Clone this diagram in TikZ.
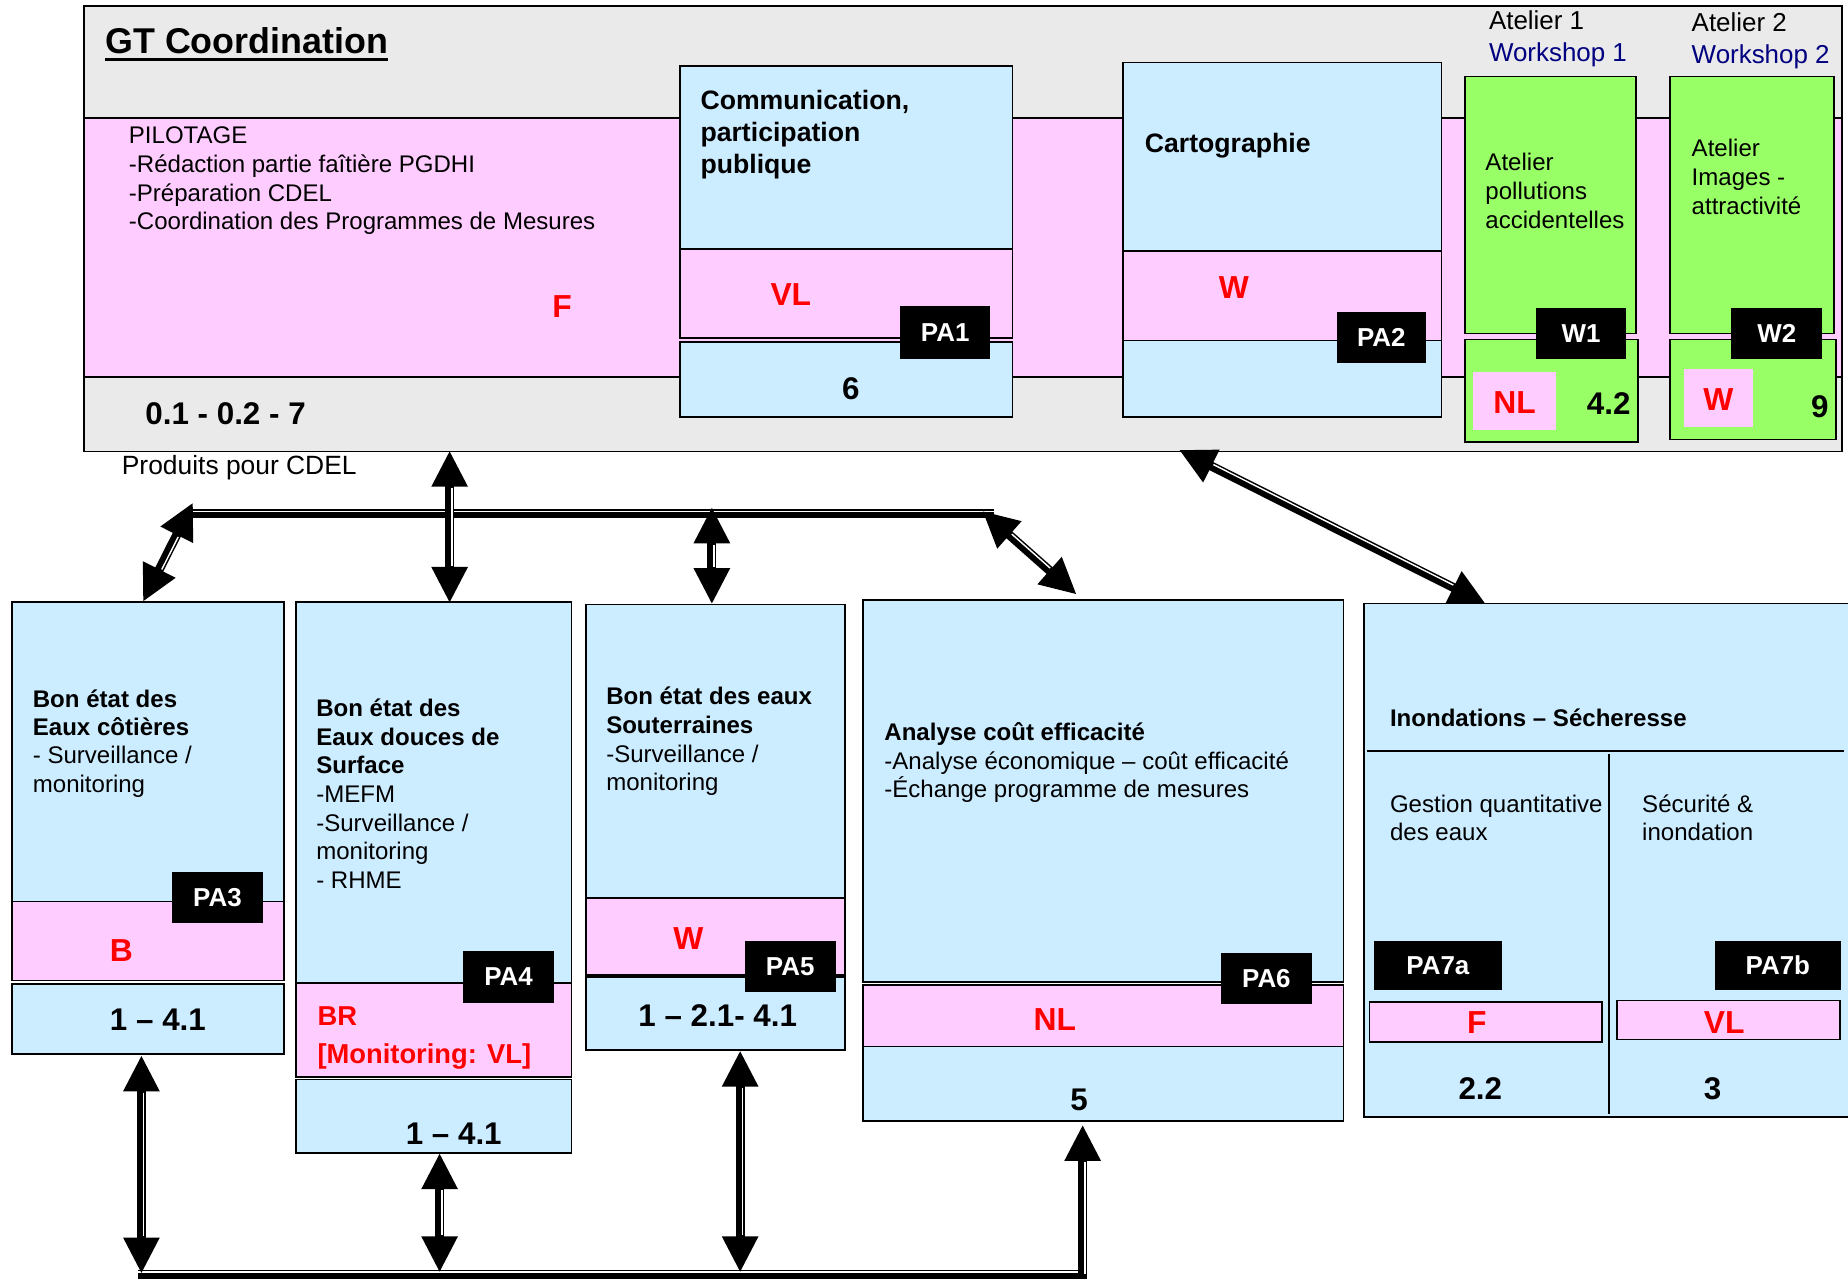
\documentclass[tikz,border=0pt]{standalone}
\usepackage{fontspec}
\setmainfont{Liberation Sans}
\usetikzlibrary{calc,fit}
\definecolor{cblue}{HTML}{CCECFF}
\definecolor{cpink}{HTML}{FFCCFF}
\definecolor{cgreen}{HTML}{99FF66}
\definecolor{cgray}{HTML}{EAEAEA}
\definecolor{cred}{HTML}{FF0000}
\definecolor{cnavy}{HTML}{000080}
\tikzset{
  bx/.style={draw=black, line width=0.75pt, inner sep=0pt, outer sep=0pt},
  txt/.style={inner sep=0pt, anchor=base west, align=left, font=\fontsize{10.2}{12.15}\selectfont},
  hdr/.style={inner sep=0pt, anchor=base west, align=left, font=\bfseries\fontsize{11.3}{13.5}\selectfont},
  redl/.style={inner sep=0pt, anchor=base, text=cred, font=\bfseries\fontsize{13.5}{16}\selectfont},
  num/.style={inner sep=0pt, anchor=base, font=\bfseries\fontsize{13.3}{16}\selectfont},
  tagt/.style={inner sep=0pt, text=white, font=\bfseries\fontsize{11}{13}\selectfont},
}
% box as a fitted node
\newcommand{\bxn}[6]{\node[bx, fill=#6, fit={(#2,#3) (#4,#5)}] (#1) {};}
\newcommand{\tagn}[6]{\node[fill=black, inner sep=0pt, fit={(#2,#3) (#4,#5)}] (#1) {};
  \node[tagt] (#1t) at (#1.center) {#6};}
% arrow head: tip #1, pointing away from #2
\newcommand{\ahead}[2]{%
  \coordinate (hbase) at ($(#1)!15pt!(#2)$);
  \fill (#1) -- ($(hbase)!7.8pt!90:(#1)$) -- ($(hbase)!7.8pt!-90:(#1)$) -- cycle;}
% double connector: thick + thin line
\newcommand{\conn}[4]{%
  \ifnum#3=1 \def\cnsa{12pt}\def\cnwa{15.5pt}\else\def\cnsa{0pt}\def\cnwa{0pt}\fi
  \ifnum#4=1 \def\cnsb{12pt}\def\cnwb{15.5pt}\else\def\cnsb{0pt}\def\cnwb{0pt}\fi
  \draw[line width=3.8pt, shorten <=\cnsa, shorten >=\cnsb] (#1) -- (#2);
  \draw[white, line width=0.6pt, shorten <=\cnwa, shorten >=\cnwb]
    ($(#1)!0.95pt!90:(#2)$) -- ($(#2)!0.95pt!-90:(#1)$);
  \ifnum#3=1 \ahead{#1}{#2}\fi
  \ifnum#4=1 \ahead{#2}{#1}\fi}
\begin{document}
\begin{tikzpicture}[x=0.5pt,y=-0.5pt]
\useasboundingbox (0,0) rectangle (1568,1085);
\clip (0,0) rectangle (1568,1085);
\fill[white] (0,0) rectangle (1568,1085);

% ---------- GT Coordination ----------
\bxn{gt}{71}{5}{1563}{383}{cgray}
\bxn{band}{71}{100}{1563}{320}{cpink}
\node[inner sep=0pt, anchor=base west, font=\bfseries\fontsize{15.2}{18}\selectfont] (title) at (89,45) {GT Coordination};
\draw[line width=1.4pt] ([yshift=-2.8pt]title.base west) -- ([yshift=-2.8pt]title.base east);
% multi-line nodes: base = baseline of last line
\node[txt] (pilot) at (109,195) {PILOTAGE\\-Rédaction partie faîtière PGDHI\\-Préparation CDEL\\-Coordination des Programmes de Mesures};
\node[redl] (gtF) at (477,269) {F};
\node[num, anchor=base west] (gtnum) at (123,360) {0.1 - 0.2 - 7};
\node[inner sep=0pt, anchor=base west, font=\fontsize{11.2}{13}\selectfont] (prod) at (103,403) {Produits pour CDEL};

% Communication
\bxn{com}{577}{56}{859}{287}{cblue}
\bxn{comp}{577}{211}{859}{287}{cpink}
\bxn{comn}{577}{290}{859}{354}{cblue}
\node[hdr] (comt) at (594,147) {Communication,\\participation\\publique};
\node[redl] (comvl) at (671,259) {VL};
\tagn{pa1}{764}{260}{840}{305}{PA1}
\node[num] (com6) at (722,339) {6};

% Cartographie
\bxn{car}{953}{53}{1223}{354}{cblue}
\bxn{carp}{953}{213}{1223}{289}{cpink}
\node[hdr] (cart) at (971,129) {Cartographie};
\node[redl] (carw) at (1047,253) {W};
\tagn{pa2}{1134}{265}{1210}{308}{PA2}

% Atelier 1
\node[inner sep=0pt, anchor=base west, font=\fontsize{11}{13}\selectfont] (at1a) at (1263,25) {Atelier 1};
\node[inner sep=0pt, anchor=base west, text=cnavy, font=\fontsize{11}{13}\selectfont] (at1b) at (1263,52) {Workshop 1};
\bxn{w1box}{1243}{65}{1388}{283}{cgreen}
\bxn{w1low}{1243}{288}{1390}{375}{cgreen}
\node[fill=cpink, inner sep=0pt, fit={(1250,316) (1320,365)}] (w1pk) {};
\node[txt, font=\fontsize{10.2}{12.25}\selectfont] (w1t) at (1260,194) {Atelier\\pollutions\\accidentelles};
\tagn{w1}{1303}{261}{1380}{305}{W1}
\node[redl] (w1nl) at (1285,351) {NL};
\node[num] (w1n) at (1365,352) {4.2};

% Atelier 2
\node[inner sep=0pt, anchor=base west, font=\fontsize{11}{13}\selectfont] (at2a) at (1435,27) {Atelier 2};
\node[inner sep=0pt, anchor=base west, text=cnavy, font=\fontsize{11}{13}\selectfont] (at2b) at (1435,54) {Workshop 2};
\bxn{w2box}{1417}{65}{1556}{283}{cgreen}
\bxn{w2low}{1417}{288}{1558}{373}{cgreen}
\node[fill=cpink, inner sep=0pt, fit={(1429,313) (1487,362)}] (w2pk) {};
\node[txt] (w2t) at (1435,181.6) {Atelier\\Images -\\attractivité};
\tagn{w2}{1469}{261}{1546}{305}{W2}
\node[redl] (w2w) at (1458,348) {W};
\node[num] (w2n) at (1544,354) {9};

% ---------- bottom row ----------
% PA3
\bxn{b3}{10}{511}{241}{832}{cblue}
\bxn{b3p}{10}{765}{241}{832}{cpink}
\bxn{b3n}{10}{835}{241}{894}{cblue}
\node[txt, font=\fontsize{10.2}{12}\selectfont] (b3t) at (27.5,672) {\textbf{Bon état des}\\\textbf{Eaux côtières}\\- Surveillance /\\monitoring};
\tagn{pa3}{146}{740}{223}{783}{PA3}
\node[redl] (b3b) at (103,816) {B};
\node[num] (b3num) at (134,874) {1 – 4.1};

% PA4
\bxn{b4}{251}{511}{485}{914}{cblue}
\bxn{b4p}{251}{834}{485}{914}{cpink}
\bxn{b4n}{251}{916}{485}{978}{cblue}
\node[txt] (b4t) at (268,753.8) {\textbf{Bon état des}\\\textbf{Eaux douces de}\\\textbf{Surface}\\-MEFM\\-Surveillance /\\monitoring\\- RHME};
\tagn{pa4}{393}{807}{470}{851}{PA4}
\node[redl, anchor=base west, font=\bfseries\fontsize{11.6}{14}\selectfont] (b4br) at (269,870) {BR};
\node[redl, anchor=base west, font=\bfseries\fontsize{11.6}{14}\selectfont] (b4mon) at (269,902) {[Monitoring: VL]};
\node[num] (b4num) at (385,971) {1 – 4.1};

% PA5
\bxn{b5}{497}{513}{717}{827}{cblue}
\bxn{b5p}{497}{762}{717}{827}{cpink}
\bxn{b5n}{497}{829}{717}{891}{cblue}
\node[txt] (b5t) at (514,670.9) {\textbf{Bon état des eaux}\\\textbf{Souterraines}\\-Surveillance /\\monitoring};
\node[redl] (b5w) at (584,806) {W};
\tagn{pa5}{632}{798}{709}{842}{PA5}
\node[num] (b5num) at (609,871) {1 – 2.1- 4.1};

% PA6
\bxn{b6}{732}{509}{1140}{833}{cblue}
\bxn{b6n}{732}{836}{1140}{951}{cblue}
\bxn{b6p}{732}{836}{1140}{888}{cpink}
\node[txt, font=\fontsize{10.2}{12.25}\selectfont] (b6t) at (750,677) {\textbf{Analyse coût efficacité}\\-Analyse économique – coût efficacité\\-Échange programme de mesures};
\tagn{pa6}{1036}{809}{1113}{852}{PA6}
\node[redl] (b6nl) at (895,874.5) {NL};
\node[num] (b6num) at (915.5,942) {5};

% PA7
\bxn{b7}{1157}{512}{1580}{948}{cblue}
\coordinate (b7hl) at (1160,637); \coordinate (b7hr) at (1565,637);
\draw[line width=0.75pt] (b7hl) -- (b7hr);
\coordinate (b7vt) at (1365,640); \coordinate (b7vb) at (1365,945);
\draw[line width=0.75pt] (b7vt) -- (b7vb);
\node[txt] (b7t) at (1179,616) {\textbf{Inondations – Sécheresse}};
\node[txt, font=\fontsize{10.2}{12}\selectfont] (b7g) at (1179,713) {Gestion quantitative\\des eaux};
\node[txt, font=\fontsize{10.2}{12}\selectfont] (b7s) at (1393,713) {Sécurité \&\\inondation};
\tagn{pa7a}{1166}{798}{1274}{840}{PA7a}
\tagn{pa7b}{1455}{798}{1562}{840}{PA7b}
\bxn{b7f}{1162}{850}{1359}{884}{cpink}
\bxn{b7v}{1372}{849}{1561}{882}{cpink}
\node[redl] (b7ft) at (1253,876.5) {F};
\node[redl] (b7vlt) at (1463,877) {VL};
\node[num] (b7n1) at (1256,933) {2.2};
\node[num] (b7n2) at (1453,933) {3};

% ---------- connectors ----------
\coordinate (hL) at (163,436);  \coordinate (hR) at (843,436);
\coordinate (a3t) at (163.5,427); \coordinate (a3b) at (121.6,510);
\coordinate (v1t) at (381.5,383); \coordinate (v1b) at (381.5,511);
\coordinate (v2t) at (604,431);  \coordinate (v2b) at (604,512);
\coordinate (a6t) at (834,434);  \coordinate (a6b) at (913,504);
\coordinate (a7t) at (1001,382); \coordinate (a7b) at (1260,512);
\coordinate (hbL) at (117,1081); \coordinate (hbR) at (922,1081);
\coordinate (c1t) at (120,896);  \coordinate (c1b) at (120,1080);
\coordinate (c2t) at (373,979);  \coordinate (c2b) at (373,1079);
\coordinate (c3t) at (628,892);  \coordinate (c3b) at (628,1079);
\coordinate (c4t) at (918.6,955); \coordinate (c4b) at (918.6,1081);

\conn{hL}{hR}{0}{0}
\conn{a3t}{a3b}{1}{1}
\conn{v1t}{v1b}{1}{1}
\conn{v2t}{v2b}{1}{1}
\conn{a6t}{a6b}{1}{1}
\conn{a7t}{a7b}{1}{1}
\conn{hbL}{hbR}{0}{0}
\conn{c1t}{c1b}{1}{1}
\conn{c2t}{c2b}{1}{1}
\conn{c3t}{c3b}{1}{1}
\conn{c4t}{c4b}{1}{0}
\end{tikzpicture}
\end{document}
